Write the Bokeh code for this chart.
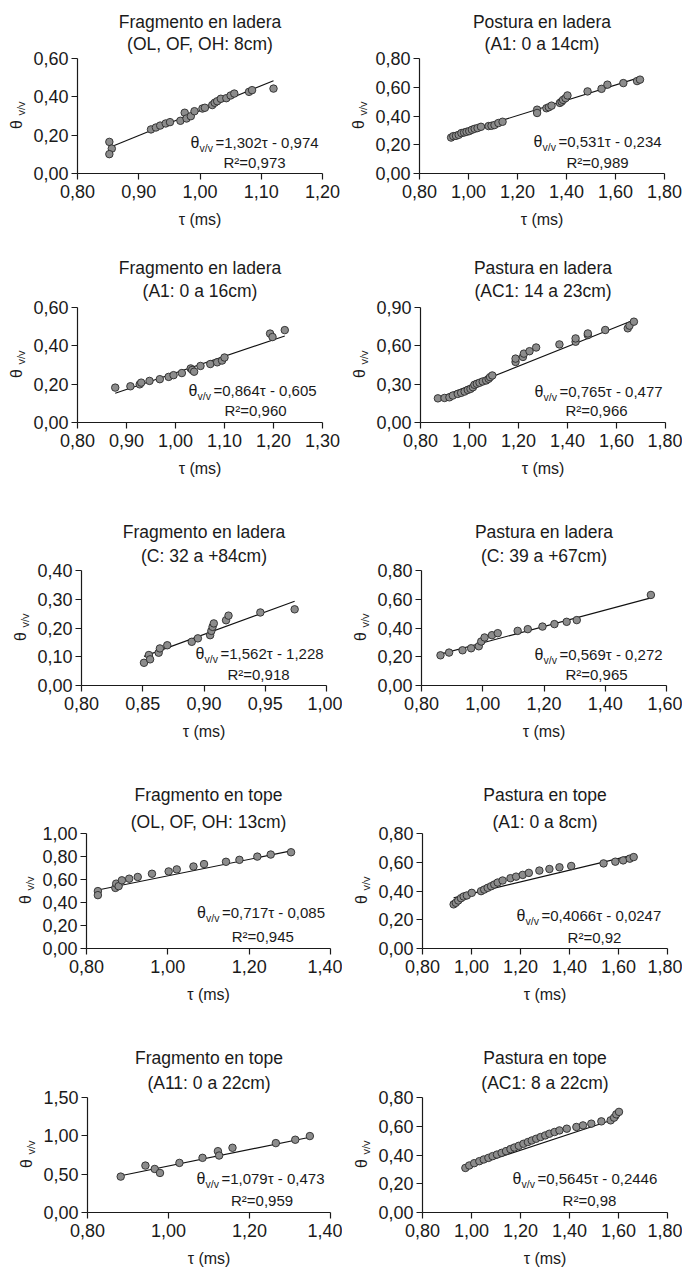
import math
from bokeh.plotting import figure
from bokeh.models import Range1d, FixedTicker, CustomJSTickFormatter, Label
from bokeh.layouts import column, row
from bokeh.embed import file_html
from bokeh.resources import INLINE

# ---------------- DATA ----------------
p1_title = ["Fragmento en ladera", "(OL, OF, OH: 8cm)"]
p1_tau = [0.852, 0.856, 0.852, 0.920, 0.928, 0.935, 0.944, 0.951, 0.968, 0.975, 0.978, 0.985, 0.991,
          1.004, 1.008, 1.020, 1.024, 1.028, 1.034, 1.043, 1.050, 1.056, 1.080, 1.085, 1.120]
p1_theta = [0.165, 0.130, 0.101, 0.230, 0.240, 0.250, 0.261, 0.268, 0.275, 0.317, 0.287, 0.299, 0.325,
            0.339, 0.343, 0.357, 0.369, 0.377, 0.390, 0.393, 0.407, 0.417, 0.426, 0.435, 0.443]
p1_fit = [1.302, -0.974]
p1_eq = "=1,302τ - 0,974"
p1_r2 = "R²=0,973"
p1_xticks = [0.80, 0.90, 1.00, 1.10, 1.20]
p1_yticks = [0.00, 0.20, 0.40, 0.60]

p2_title = ["Postura en ladera", "(A1: 0 a 14cm)"]
p2_tau = [0.929, 0.938, 0.949, 0.960, 0.971, 0.982, 0.992, 1.003, 1.014, 1.025, 1.037, 1.051, 1.082,
          1.094, 1.106, 1.122, 1.139, 1.280, 1.280, 1.318, 1.328, 1.339, 1.373, 1.380, 1.386, 1.396,
          1.404, 1.486, 1.543, 1.567, 1.632, 1.688, 1.700]
p2_theta = [0.250, 0.260, 0.262, 0.269, 0.281, 0.285, 0.290, 0.295, 0.304, 0.311, 0.316, 0.325, 0.330,
            0.332, 0.337, 0.351, 0.360, 0.444, 0.421, 0.454, 0.461, 0.472, 0.491, 0.500, 0.512, 0.524,
            0.543, 0.571, 0.589, 0.618, 0.629, 0.643, 0.653]
p2_fit = [0.531, -0.234]
p2_eq = "=0,531τ - 0,234"
p2_r2 = "R²=0,989"
p2_xticks = [0.80, 1.00, 1.20, 1.40, 1.60, 1.80]
p2_yticks = [0.00, 0.20, 0.40, 0.60, 0.80]

p3_title = ["Fragmento en ladera", "(A1: 0 a 16cm)"]
p3_tau = [0.877, 0.908, 0.927, 0.930, 0.947, 0.968, 0.986, 0.996, 1.013, 1.031, 1.034, 1.038, 1.051,
          1.071, 1.085, 1.095, 1.100, 1.193, 1.198, 1.223]
p3_theta = [0.182, 0.189, 0.199, 0.208, 0.217, 0.226, 0.238, 0.247, 0.258, 0.282, 0.274, 0.265, 0.295,
            0.305, 0.314, 0.323, 0.339, 0.464, 0.446, 0.482]
p3_fit = [0.864, -0.605]
p3_eq = "=0,864τ - 0,605"
p3_r2 = "R²=0,960"
p3_xticks = [0.80, 0.90, 1.00, 1.10, 1.20, 1.30]
p3_yticks = [0.00, 0.20, 0.40, 0.60]

p4_title = ["Pastura en ladera", "(AC1: 14 a 23cm)"]
p4_tau = [0.871, 0.898, 0.918, 0.932, 0.952, 0.966, 0.980, 0.993, 1.004, 1.014, 1.020, 1.030, 1.041,
          1.054, 1.068, 1.078, 1.084, 1.093, 1.188, 1.188, 1.218, 1.222, 1.245, 1.272, 1.367, 1.433,
          1.433, 1.483, 1.483, 1.554, 1.646, 1.653, 1.671]
p4_theta = [0.189, 0.192, 0.197, 0.211, 0.224, 0.232, 0.242, 0.255, 0.263, 0.276, 0.295, 0.303, 0.311,
            0.321, 0.329, 0.342, 0.355, 0.368, 0.474, 0.500, 0.513, 0.539, 0.558, 0.587, 0.611, 0.632,
            0.658, 0.684, 0.697, 0.724, 0.737, 0.758, 0.789]
p4_fit = [0.765, -0.477]
p4_eq = "=0,765τ - 0,477"
p4_r2 = "R²=0,966"
p4_xticks = [0.80, 1.00, 1.20, 1.40, 1.60, 1.80]
p4_yticks = [0.00, 0.30, 0.60, 0.90]

p5_title = ["Fragmento en ladera", "(C: 32 a +84cm)"]
p5_tau = [0.851, 0.855, 0.856, 0.863, 0.864, 0.870, 0.890, 0.895, 0.905, 0.906, 0.907, 0.908, 0.918,
          0.920, 0.946, 0.974]
p5_theta = [0.079, 0.106, 0.091, 0.114, 0.129, 0.140, 0.152, 0.164, 0.175, 0.190, 0.204, 0.216, 0.227,
            0.243, 0.254, 0.265]
p5_fit = [1.562, -1.228]
p5_eq = "=1,562τ - 1,228"
p5_r2 = "R²=0,918"
p5_xticks = [0.80, 0.85, 0.90, 0.95, 1.00]
p5_yticks = [0.00, 0.10, 0.20, 0.30, 0.40]

p6_title = ["Pastura en ladera", "(C: 39 a +67cm)"]
p6_tau = [0.862, 0.890, 0.934, 0.962, 0.987, 0.995, 1.006, 1.030, 1.049, 1.114, 1.147, 1.195, 1.234,
          1.274, 1.307, 1.549]
p6_theta = [0.210, 0.229, 0.245, 0.259, 0.273, 0.306, 0.334, 0.350, 0.364, 0.380, 0.392, 0.410, 0.427,
            0.443, 0.455, 0.630]
p6_fit = [0.569, -0.272]
p6_eq = "=0,569τ - 0,272"
p6_r2 = "R²=0,965"
p6_xticks = [0.80, 1.00, 1.20, 1.40, 1.60]
p6_yticks = [0.00, 0.20, 0.40, 0.60, 0.80]

p7_title = ["Fragmento en tope", "(OL, OF, OH: 13cm)"]
p7_tau = [0.828, 0.828, 0.871, 0.873, 0.879, 0.887, 0.905, 0.926, 0.961, 1.002, 1.022, 1.063, 1.089,
          1.143, 1.176, 1.220, 1.253, 1.303]
p7_theta = [0.499, 0.464, 0.527, 0.564, 0.542, 0.593, 0.607, 0.622, 0.650, 0.670, 0.688, 0.713, 0.734,
            0.754, 0.771, 0.799, 0.817, 0.837]
p7_fit = [0.717, -0.085]
p7_eq = "=0,717τ - 0,085"
p7_r2 = "R²=0,945"
p7_xticks = [0.80, 1.00, 1.20, 1.40]
p7_yticks = [0.00, 0.20, 0.40, 0.60, 0.80, 1.00]

p8_title = ["Pastura en tope", "(A1: 0 a 8cm)"]
p8_tau = [0.927, 0.936, 0.946, 0.957, 0.968, 0.981, 1.001, 1.039, 1.052, 1.066, 1.080, 1.093, 1.107,
          1.127, 1.159, 1.182, 1.209, 1.234, 1.277, 1.318, 1.359, 1.407, 1.539, 1.587, 1.619, 1.646,
          1.662]
p8_theta = [0.307, 0.318, 0.334, 0.350, 0.362, 0.369, 0.387, 0.399, 0.410, 0.422, 0.433, 0.445, 0.459,
            0.473, 0.489, 0.500, 0.512, 0.526, 0.542, 0.553, 0.565, 0.574, 0.592, 0.604, 0.613, 0.625,
            0.636]
p8_fit = [0.4066, -0.0247]
p8_eq = "=0,4066τ - 0,0247"
p8_r2 = "R²=0,92"
p8_xticks = [0.80, 1.00, 1.20, 1.40, 1.60, 1.80]
p8_yticks = [0.00, 0.20, 0.40, 0.60, 0.80]

p9_title = ["Fragmento en tope", "(A11: 0 a 22cm)"]
p9_tau = [0.882, 0.943, 0.966, 0.979, 1.027, 1.084, 1.122, 1.125, 1.158, 1.265, 1.313, 1.349]
p9_theta = [0.468, 0.612, 0.568, 0.516, 0.647, 0.713, 0.800, 0.743, 0.844, 0.905, 0.949, 0.997]
p9_fit = [1.079, -0.473]
p9_eq = "=1,079τ - 0,473"
p9_r2 = "R²=0,959"
p9_xticks = [0.80, 1.00, 1.20, 1.40]
p9_yticks = [0.00, 0.50, 1.00, 1.50]

p10_title = ["Pastura en tope", "(AC1: 8 a 22cm)"]
p10_tau = [0.975, 0.991, 1.011, 1.032, 1.050, 1.069, 1.086, 1.104, 1.123, 1.141, 1.159, 1.175, 1.193,
           1.212, 1.230, 1.246, 1.264, 1.282, 1.301, 1.318, 1.339, 1.359, 1.389, 1.428, 1.455, 1.489,
           1.530, 1.568, 1.582, 1.591, 1.602]
p10_theta = [0.310, 0.327, 0.343, 0.357, 0.369, 0.380, 0.392, 0.403, 0.415, 0.427, 0.441, 0.452, 0.464,
             0.478, 0.490, 0.501, 0.513, 0.525, 0.536, 0.548, 0.560, 0.571, 0.583, 0.595, 0.606, 0.618,
             0.634, 0.641, 0.660, 0.683, 0.700]
p10_fit = [0.5645, -0.2446]
p10_eq = "=0,5645τ - 0,2446"
p10_r2 = "R²=0,98"
p10_xticks = [0.80, 1.00, 1.20, 1.40, 1.60, 1.80]
p10_yticks = [0.00, 0.20, 0.40, 0.60, 0.80]

panels = [
    (p1_title, p1_tau, p1_theta, p1_fit, p1_eq, p1_r2, p1_xticks, p1_yticks),
    (p2_title, p2_tau, p2_theta, p2_fit, p2_eq, p2_r2, p2_xticks, p2_yticks),
    (p3_title, p3_tau, p3_theta, p3_fit, p3_eq, p3_r2, p3_xticks, p3_yticks),
    (p4_title, p4_tau, p4_theta, p4_fit, p4_eq, p4_r2, p4_xticks, p4_yticks),
    (p5_title, p5_tau, p5_theta, p5_fit, p5_eq, p5_r2, p5_xticks, p5_yticks),
    (p6_title, p6_tau, p6_theta, p6_fit, p6_eq, p6_r2, p6_xticks, p6_yticks),
    (p7_title, p7_tau, p7_theta, p7_fit, p7_eq, p7_r2, p7_xticks, p7_yticks),
    (p8_title, p8_tau, p8_theta, p8_fit, p8_eq, p8_r2, p8_xticks, p8_yticks),
    (p9_title, p9_tau, p9_theta, p9_fit, p9_eq, p9_r2, p9_xticks, p9_yticks),
    (p10_title, p10_tau, p10_theta, p10_fit, p10_eq, p10_r2, p10_xticks, p10_yticks),
]

# ---------------- LAYOUT / STYLE ----------------
FONT = "Liberation Sans"
FW, FH = 245, 115                       # frame size (px)
COL_W = [342, 340]
ROW_H = [257, 263, 263, 264, 222]
TOP = [58, 50, 50, 50, 50]
BORDER_LEFT = [77, 77, 77, 78, 81, 79, 86, 80, 87, 80]
EQ_POS = [(113, 31, 177, 11), (114, 32, 178, 11), (111, 32, 178, 12), (114, 31, 176, 12),
          (114, 32, 177, 11), (113, 31, 175, 11), (111, 36, 177, 12), (94, 33, 172, 11),
          (110, 34, 176, 12), (90, 34, 167, 12)]
TITLE_OFF = [(37, 15), (40, 17), (39, 15), (39, 12), (40, 15)]
XLAB_OFF = 46

fmt_code = "return tick.toFixed(2).replace('.', ',');"


def make_panel(i, spec):
    title, tau, theta, fit, eq, r2, xt, yt = spec
    r, c = divmod(i, 2)
    W, H = COL_W[c], ROW_H[r]
    x0, x1 = xt[0], xt[-1]
    y0, y1 = yt[0], yt[-1]
    p = figure(width=W, height=H, output_backend="svg", toolbar_location=None,
               x_range=Range1d(x0, x1), y_range=Range1d(y0, y1))
    p.min_border_left = BORDER_LEFT[i]
    p.min_border_right = W - BORDER_LEFT[i] - FW
    p.min_border_top = TOP[r]
    p.min_border_bottom = H - TOP[r] - FH
    p.outline_line_color = None
    p.background_fill_color = "white"
    p.border_fill_color = "white"
    p.xgrid.visible = False
    p.ygrid.visible = False

    for ax, ticks in ((p.xaxis[0], xt), (p.yaxis[0], yt)):
        ax.ticker = FixedTicker(ticks=ticks)
        ax.formatter = CustomJSTickFormatter(code=fmt_code)
        ax.axis_line_color = "#1a1a1a"
        ax.axis_line_width = 1.2
        ax.major_tick_line_color = "#1a1a1a"
        ax.major_tick_line_width = 1.2
        ax.major_tick_in = 0
        ax.major_tick_out = 6
        ax.minor_tick_line_color = None
        ax.major_label_text_font = FONT
        ax.major_label_text_font_size = "18px"
        ax.major_label_text_color = "#1a1a1a"
    p.xaxis[0].major_label_standoff = 5
    p.yaxis[0].major_label_standoff = 3

    def dx(px):
        return x0 + px / FW * (x1 - x0)

    def dy(py):
        return y0 + py / FH * (y1 - y0)

    # regression line
    xs = [min(tau), max(tau)]
    ys = [fit[0] * v + fit[1] for v in xs]
    p.line(xs, ys, line_color="#111111", line_width=1.1)
    # points
    p.scatter(tau, theta, size=7.5, fill_color="#8c8c8c", line_color="#2a2a2a", line_width=0.9)

    def lab(x, y, text, size, align="center", baseline="middle", angle=0.0, place="center"):
        lb = Label(x=x, y=y, text=text, text_font=FONT, text_font_size=size,
                   text_align=align, text_baseline=baseline, text_color="#1a1a1a",
                   angle=angle, angle_units="rad")
        p.add_layout(lb, place)

    # title (in the top side panel, positioned in data units)
    t1, t2 = TITLE_OFF[r]
    lab(dx(FW / 2), dy(FH + t1), title[0], "17.5px", place="above")
    lab(dx(FW / 2), dy(FH + t2), title[1], "17.5px", place="above")

    # equation (inside the frame)
    el, ey, rx, ry = EQ_POS[i]
    lab(dx(el), dy(ey), "θ", "16px", align="left")
    lab(dx(el + 9), dy(ey - 5), "v/v", "10.5px", align="left")
    lab(dx(el + 25), dy(ey), eq, "15px", align="left")
    lab(dx(rx), dy(ry), r2, "15px")

    # axis labels
    lab(dx(-61), dy(49), "θ", "16px", angle=math.pi / 2, place="left")
    lab(dx(-57), dy(65), "v/v", "11px", angle=math.pi / 2, place="right")
    lab(dx(FW / 2), dy(-XLAB_OFF), "τ (ms)", "16px", place="below")
    return p


figs = [make_panel(i, s) for i, s in enumerate(panels)]
layout = column(*[row(figs[2 * k], figs[2 * k + 1]) for k in range(5)])

open("out.html", "w").write(file_html(layout, INLINE))
